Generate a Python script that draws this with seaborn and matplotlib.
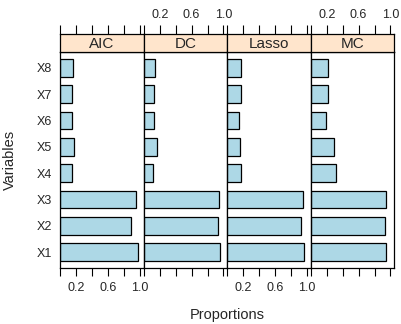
import numpy as np
import pandas as pd
import matplotlib
matplotlib.use("Agg")
import matplotlib.pyplot as plt
import seaborn as sns

variables = ['X1', 'X2', 'X3', 'X4', 'X5', 'X6', 'X7', 'X8']
methods = ['AIC', 'DC', 'Lasso', 'MC']
aic = [0.97, 0.89, 0.95, 0.15, 0.17, 0.14, 0.15, 0.155]
dc = [0.96, 0.93, 0.95, 0.11, 0.17, 0.13, 0.13, 0.14]
lasso = [0.96, 0.92, 0.955, 0.17, 0.155, 0.14, 0.175, 0.17]
mc = [0.945, 0.93, 0.945, 0.32, 0.295, 0.19, 0.22, 0.21]
tick_vals = [0, 0.2, 0.4, 0.6, 0.8, 1.0]
tick_labels = ['', '0.2', '', '0.6', '', '1.0']

df = pd.DataFrame({
    'Variables': variables * 4,
    'Proportions': aic + dc + lasso + mc,
    'method': np.repeat(methods, len(variables)),
})

sns.set_style("white")
plt.rcParams['font.family'] = ['Liberation Sans', 'DejaVu Sans']

W, H = 401, 324
fig = plt.figure(figsize=(W / 100, H / 100), dpi=100)

left, right = 60, 394
top_panel, bottom_panel = 52, 268
strip_top = 34
pw = (right - left) / 4
order = variables[::-1]

for i, m in enumerate(methods):
    x0 = left + i * pw
    ax = fig.add_axes([x0 / W, 1 - bottom_panel / H, pw / W, (bottom_panel - top_panel) / H])
    sub = df[df['method'] == m]
    sns.barplot(data=sub, y='Variables', x='Proportions', order=order, orient='h',
                color='#ADD8E6', edgecolor='black', linewidth=0.9, width=2 / 3,
                saturation=1, ax=ax)
    ax.set_xlim(-0.005, 1.045)
    ax.set_ylim(7.6, -0.6)
    ax.set_xlabel('')
    ax.set_ylabel('')
    ax.set_xticks(tick_vals)
    ax.tick_params(axis='x', direction='out', length=6, width=0.8, color='black',
                   labelsize=9, pad=4, top=False, bottom=True)
    if i % 2 == 0:
        ax.set_xticklabels(tick_labels)
    else:
        ax.set_xticklabels([])
    if i == 0:
        ax.tick_params(axis='y', length=0, labelsize=9, pad=6)
    else:
        ax.set_yticks([])
    for s in ax.spines.values():
        s.set_color('black')
        s.set_linewidth(0.9)

    sax = fig.add_axes([x0 / W, 1 - top_panel / H, pw / W, (top_panel - strip_top) / H])
    sax.set_facecolor('#FFE5CC')
    sax.set_xlim(-0.005, 1.045)
    sax.set_yticks([])
    sax.set_xticks(tick_vals)
    sax.xaxis.tick_top()
    sax.tick_params(axis='x', direction='out', length=6.5, width=0.8, color='black',
                    labelsize=9, pad=3)
    if i % 2 == 1:
        sax.set_xticklabels(tick_labels)
    else:
        sax.set_xticklabels([])
    sax.text(0.5, 0.45, m, transform=sax.transAxes, ha='center', va='center', fontsize=11)
    for s in sax.spines.values():
        s.set_color('black')
        s.set_linewidth(0.9)

fig.text((left + right) / 2 / W, 1 - 315 / H, 'Proportions', ha='center', va='center', fontsize=10.5)
fig.text(10 / W, 1 - 160 / H, 'Variables', ha='center', va='center', rotation=90, fontsize=10.5)

fig.savefig('out.png', dpi=100)
